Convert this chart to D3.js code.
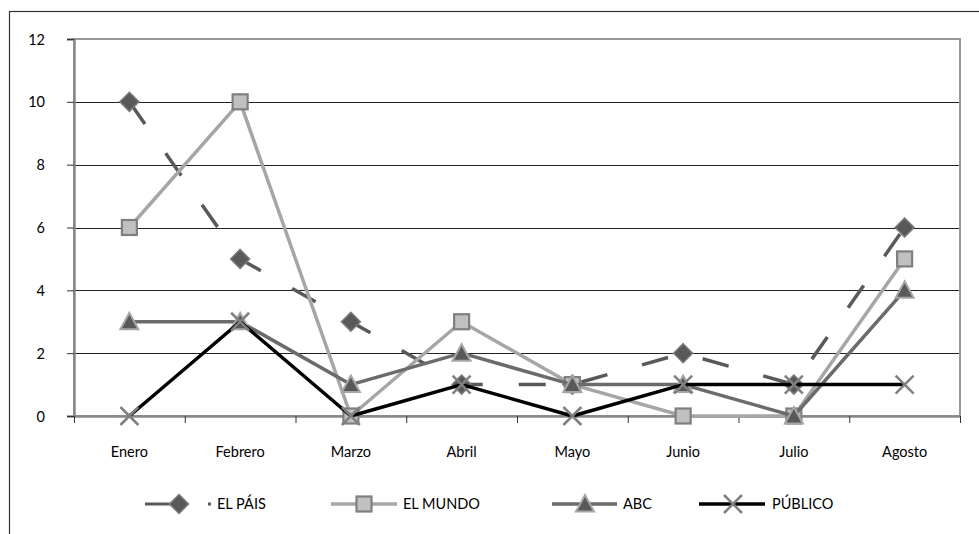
<!DOCTYPE html>
<html><head><meta charset="utf-8">
<script src="https://cdn.jsdelivr.net/npm/d3@7"></script>
<style>body{margin:0;background:#fff}svg{display:block}text{font-family:Lato,"Open Sans",sans-serif;fill:#000}</style>
</head><body><svg id="c" width="979" height="534"></svg>
<script>
const months = ["Enero","Febrero","Marzo","Abril","Mayo","Junio","Julio","Agosto"];
const yTicks = [0,2,4,6,8,10,12];
const elPais  = [10,5,3,1,1,2,1,6];
const elMundo = [6,10,0,3,1,0,0,5];
const abc     = [3,3,1,2,1,1,0,4];
const publico = [0,3,0,1,0,1,1,1];
const seriesNames = ["EL PÁIS","EL MUNDO","ABC","PÚBLICO"];

const svg = d3.select("#c");
const L=74, R=960, T=39, B=416;
const FS = 14.5;
const x = d3.scaleBand().domain(months).range([L,R]);
const y = d3.scaleLinear().domain([0,12]).range([B,T]);
const cx = m => x(m)+x.bandwidth()/2;

// outer border
svg.append("rect").attr("x",9.5).attr("y",11.5).attr("width",1000).attr("height",600)
  .attr("fill","none").attr("stroke","#333").attr("stroke-width",1.2);

// gridlines
svg.append("g").selectAll("line").data(yTicks.filter(d=>d>0&&d<12)).join("line")
  .attr("x1",L).attr("x2",R).attr("y1",d=>Math.round(y(d))+0.5).attr("y2",d=>Math.round(y(d))+0.5)
  .attr("stroke","#222").attr("stroke-width",1);

// plot border
svg.append("rect").attr("x",L).attr("y",T).attr("width",R-L).attr("height",B-T)
  .attr("fill","none").attr("stroke","#999").attr("stroke-width",2);

// y axis
const yAxis = d3.axisLeft(y).tickValues(yTicks).tickSize(7).tickPadding(22);
const gy = svg.append("g").attr("transform",`translate(${L},0)`).call(yAxis);
gy.select(".domain").attr("stroke","#888").attr("stroke-width",2.5);
gy.selectAll(".tick line").attr("stroke","#333");
gy.selectAll("text").attr("font-size",FS).attr("font-family","Lato").attr("dy","0.35em");

// x axis
const xAxis = d3.axisBottom(x).tickSize(0).tickPadding(31);
const gx = svg.append("g").attr("transform",`translate(0,${B})`).call(xAxis);
gx.select(".domain").attr("stroke","#888").attr("stroke-width",2.5);
gx.selectAll("text").attr("font-size",FS).attr("font-family","Lato");
gx.selectAll(".bt").data(d3.range(months.length+1)).join("line").attr("class","bt")
  .attr("x1",i=>L+i*x.step()+0.5).attr("x2",i=>L+i*x.step()+0.5).attr("y1",0).attr("y2",7)
  .attr("stroke","#333").attr("stroke-width",1);

const line = d3.line().x((d,i)=>cx(months[i])).y(d=>y(d));

// marker symbols
const diamond = (g,px,py)=>g.append("path").attr("d",`M${px},${py-9.5}L${px+9.5},${py}L${px},${py+9.5}L${px-9.5},${py}Z`)
  .attr("fill","#595959").attr("stroke","#7a7a7a").attr("stroke-width",1.5);
const square = (g,px,py)=>g.append("rect").attr("x",px-7.5).attr("y",py-7.5).attr("width",15).attr("height",15)
  .attr("fill","#c0c0c0").attr("stroke","#7f7f7f").attr("stroke-width",2.2);
const tri = (g,px,py)=>g.append("path").attr("d",`M${px},${py-9}L${px+9},${py+7.5}L${px-9},${py+7.5}Z`)
  .attr("fill","#595959").attr("stroke","#a6a6a6").attr("stroke-width",2);
const cross = (g,px,py)=>g.append("path").attr("d",`M${px-9},${py-9}L${px+9},${py+9}M${px+9},${py-9}L${px-9},${py+9}`)
  .attr("stroke","#808080").attr("stroke-width",2.5).attr("fill","none");

const series = [
  {name:seriesNames[0], vals:elPais, color:"#595959", dash:"27,36", mk:diamond},
  {name:seriesNames[1], vals:elMundo, color:"#a6a6a6", dash:null, mk:square},
  {name:seriesNames[2], vals:abc, color:"#6b6b6b", dash:null, mk:tri},
  {name:seriesNames[3], vals:publico, color:"#000", dash:null, mk:cross}
];

series.forEach(s=>{
  const g = svg.append("g");
  const p = g.append("path").attr("d",line(s.vals)).attr("fill","none")
    .attr("stroke",s.color).attr("stroke-width",3.5).attr("stroke-linejoin","round");
  if(s.dash) p.attr("stroke-dasharray",s.dash);
  s.vals.forEach((v,i)=>s.mk(g,cx(months[i]),y(v)));
});

// legend
const legY = 504;
const leg = [
  {x1:145,x2:211,mx:179,tx:217},
  {x1:331,x2:397,mx:364,tx:403},
  {x1:552,x2:617,mx:585,tx:623},
  {x1:699,x2:765,mx:733,tx:772}
];
series.forEach((s,i)=>{
  const l = leg[i];
  const g = svg.append("g");
  const ln = g.append("line").attr("x1",l.x1).attr("x2",l.x2).attr("y1",legY).attr("y2",legY)
    .attr("stroke",s.color).attr("stroke-width",s.dash?3:3.5);
  if(s.dash) ln.attr("stroke-dasharray","30,33");
  s.mk(g,l.mx,legY);
  g.append("text").attr("x",l.tx).attr("y",legY).attr("dy","0.35em").attr("font-size",FS).text(s.name);
});
</script></body></html>
